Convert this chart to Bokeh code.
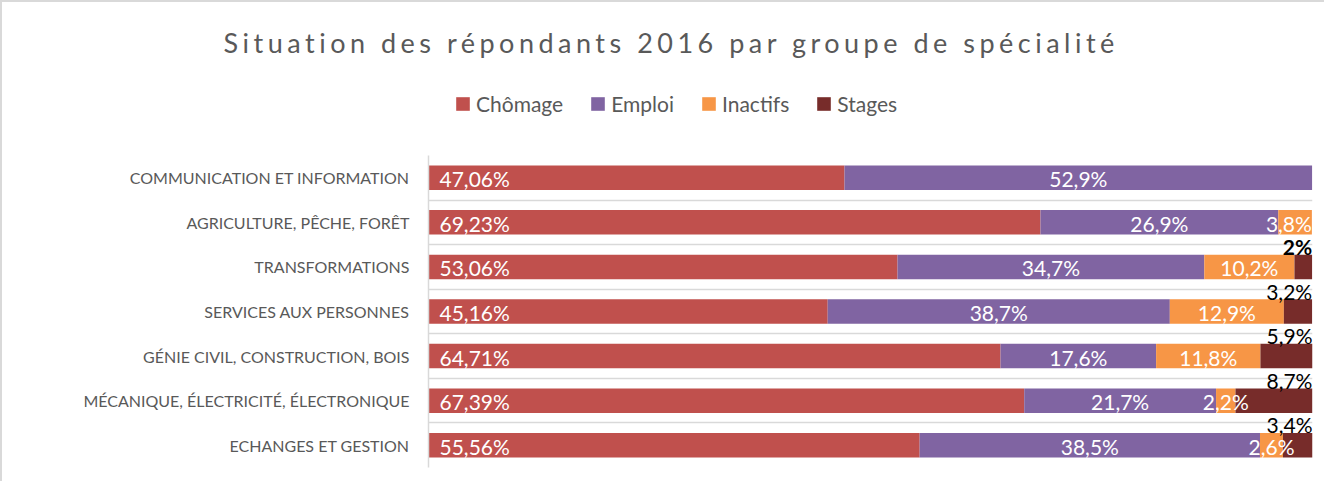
from bokeh.plotting import figure
from bokeh.layouts import column
from bokeh.models import ColumnDataSource, FactorRange, Range1d, LabelSet, FixedTicker
from bokeh.core.properties import value
from bokeh.embed import file_html
from bokeh.resources import INLINE

# ---------------- data ----------------
categories = [
    "COMMUNICATION ET INFORMATION",
    "AGRICULTURE, PÊCHE, FORÊT",
    "TRANSFORMATIONS",
    "SERVICES AUX PERSONNES",
    "GÉNIE CIVIL, CONSTRUCTION, BOIS",
    "MÉCANIQUE, ÉLECTRICITÉ, ÉLECTRONIQUE",
    "ECHANGES ET GESTION",
]
series_names = ["Chômage", "Emploi", "Inactifs", "Stages"]
chomage = [47.06, 69.23, 53.06, 45.16, 64.71, 67.39, 55.56]
emploi = [52.9, 26.9, 34.7, 38.7, 17.6, 21.7, 38.5]
inactifs = [0, 3.8, 10.2, 12.9, 11.8, 2.2, 2.6]
stages = [0, 0, 2, 3.2, 5.9, 8.7, 3.4]
title_text = "Situation des répondants 2016 par groupe de spécialité"

# ---------------- style ----------------
colors = ["#C0504D", "#8064A2", "#F79646", "#772C2A"]
FONT = "Lato"
GREY = "#595959"
BOLD_STAGE = "TRANSFORMATIONS"
BORDERS = dict(frame_width=884, min_border_left=426, min_border_right=12)

fields = ["chomage", "emploi", "inactifs", "stages"]
src = ColumnDataSource(dict(cat=categories, chomage=chomage, emploi=emploi,
                            inactifs=inactifs, stages=stages))


def fmt(v):
    return f"{v:g}".replace(".", ",") + "%"


def bare(fig):
    fig.xgrid.visible = False
    fig.ygrid.visible = False
    fig.outline_line_color = None
    return fig


# ---------------- title strip ----------------
tf = bare(figure(frame_height=24, min_border_top=56, min_border_bottom=0, **BORDERS,
                 x_range=Range1d(0, 1), y_range=Range1d(0, 1),
                 x_axis_location=None, y_axis_location=None,
                 toolbar_location=None, output_backend="svg"))
tf.styles = {"letter-spacing": "4.5px"}
tf.title.text = title_text
tf.title.align = "left"
tf.title.offset = -205
tf.title.standoff = 0
tf.title.text_font = FONT
tf.title.text_font_size = "27px"
tf.title.text_font_style = "normal"
tf.title.text_color = GREY

# ---------------- legend strip ----------------
# the stacked bars only feed the legend here: zero height, so no bar shows
lf = bare(figure(frame_height=60, min_border_top=0, min_border_bottom=0, **BORDERS,
                 x_range=Range1d(0, 100), y_range=FactorRange(factors=categories[::-1]),
                 x_axis_location=None, y_axis_location=None,
                 toolbar_location=None, output_backend="svg"))
lf.hbar_stack(fields, y="cat", height=0, color=colors, line_color=None,
              source=src, legend_label=series_names)
lg = lf.legend[0]
lg.orientation = "horizontal"
lg.location = (26, 26)
lg.padding = 0
lg.margin = 0
lg.border_line_color = None
lg.background_fill_alpha = 0
lg.glyph_width = 17
lg.glyph_height = 17
lg.label_height = 24
lg.label_standoff = 5
lg.spacing = 26
lg.label_text_font = FONT
lg.label_text_font_size = "21px"
lg.label_text_color = GREY

# ---------------- main chart ----------------
p = figure(
    y_range=FactorRange(factors=categories[::-1]),
    x_range=Range1d(0, 100),
    frame_height=312, min_border_top=13, min_border_bottom=14, **BORDERS,
    x_axis_location=None,
    toolbar_location=None, output_backend="svg",
)
p.hbar_stack(fields, y="cat", height=0.55, color=colors, line_color=None, source=src)

p.xgrid.visible = False
p.ygrid.ticker = FixedTicker(ticks=list(range(len(categories) + 1)))
p.ygrid.grid_line_color = "#d9d9d9"
p.ygrid.grid_line_width = 1.5
p.outline_line_color = None

ax = p.yaxis[0]
ax.axis_line_color = "#d9d9d9"
ax.axis_line_width = 1.5
ax.major_tick_line_color = None
ax.minor_tick_line_color = None
ax.major_label_standoff = 13
ax.major_label_text_font = FONT
ax.major_label_text_font_size = "16px"
ax.major_label_text_color = GREY

n = len(categories)


def label_source(vals, xs, aligns=None):
    keep = [i for i in range(n) if vals[i] > 0]
    return ColumnDataSource(dict(
        x=[xs[i] for i in keep],
        cat=[categories[i] for i in keep],
        txt=[fmt(vals[i]) for i in keep],
        align=[(aligns[i] if aligns else "center") for i in keep],
        style=["bold" if categories[i] == BOLD_STAGE else "normal" for i in keep],
    ))


x_ch = [0] * n
x_em = [chomage[i] + emploi[i] / 2 for i in range(n)]
x_in = [chomage[i] + emploi[i] + (inactifs[i] / 2 if stages[i] > 0 else inactifs[i])
        for i in range(n)]
al_in = ["center" if stages[i] > 0 else "right" for i in range(n)]
x_st = [min(100, chomage[i] + emploi[i] + inactifs[i] + stages[i]) for i in range(n)]

common = dict(x="x", y="cat", text="txt", text_font=value(FONT),
              text_font_size="21px")
p.add_layout(LabelSet(source=label_source(chomage, x_ch), text_align="left",
                      text_baseline="middle", x_offset=11, y_offset=-1,
                      text_color="white", **common))
p.add_layout(LabelSet(source=label_source(emploi, x_em), text_align="center",
                      text_baseline="middle", y_offset=-1, text_color="white", **common))
p.add_layout(LabelSet(source=label_source(inactifs, x_in, al_in), text_align="align",
                      text_baseline="middle", y_offset=-1, text_color="white", **common))
p.add_layout(LabelSet(source=label_source(stages, x_st), text_align="right",
                      text_baseline="alphabetic", x_offset=0, y_offset=12,
                      text_color="black", text_font_style="style", **common))

layout = column(tf, lf, p, spacing=0)
layout.styles = {"border-left": "2px solid #d9d9d9", "border-top": "2px solid #d9d9d9"}

open("out.html", "w").write(file_html(layout, INLINE))
